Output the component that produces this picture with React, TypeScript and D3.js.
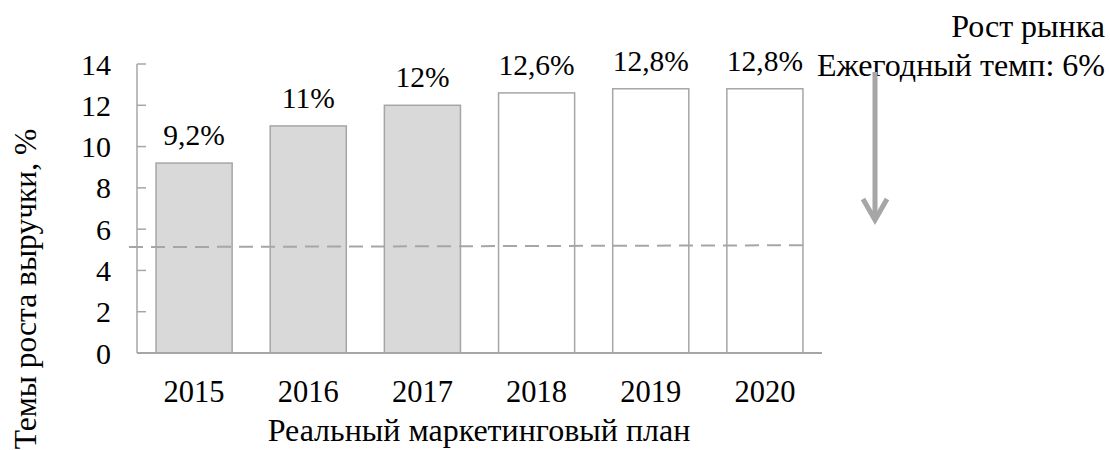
import * as d3 from "d3";

// chart data
const years = ["2015", "2016", "2017", "2018", "2019", "2020"];
const growth = [9.2, 11, 12, 12.6, 12.8, 12.8];
const labels = ["9,2%", "11%", "12%", "12,6%", "12,8%", "12,8%"];
const actual = [true, true, true, false, false, false];
const yTicks = [0, 2, 4, 6, 8, 10, 12, 14];
// market trend line, start / end values
const trend = [5.13, 5.22];

const W = 1110;
const H = 450;
const FONT = "'Liberation Serif', 'Times New Roman', serif";
const GRAY = "#a6a6a6";
const NUM = 29.5; // numbers
const TXT = 32; // cyrillic text

export default function App() {
  const x = d3.scaleBand<string>().domain(years).range([137, 822]).paddingInner(1 / 3).paddingOuter(1 / 6);
  const y = d3.scaleLinear().domain([0, 14]).range([353, 64]);

  const data = years.map((yr, i) => ({ yr, v: growth[i], label: labels[i], filled: actual[i] }));

  const x0 = x.range()[0] - 8;
  const x1 = (x(years[years.length - 1]) ?? 0) + x.bandwidth() + 2;
  const trendLine = d3.line<[number, number]>()([
    [x0, y(trend[0])],
    [x1, y(trend[1])],
  ]);

  return (
    <svg width={W} height={H} style={{ position: "absolute", left: 0, top: 0, background: "#fff", fontFamily: FONT }}>
      {/* bars */}
      {data.map((d) => (
        <g key={d.yr}>
          <rect
            x={x(d.yr)}
            y={y(d.v)}
            width={x.bandwidth()}
            height={y(0) - y(d.v)}
            fill={d.filled ? "#d9d9d9" : "#fff"}
            stroke={GRAY}
            strokeWidth={1.5}
          />
          <text x={(x(d.yr) ?? 0) + x.bandwidth() / 2} y={y(d.v) - 18} textAnchor="middle" fontSize={NUM} fill="#000">
            {d.label}
          </text>
          <text x={(x(d.yr) ?? 0) + x.bandwidth() / 2} y={402} textAnchor="middle" fontSize={30.5} fill="#000">
            {d.yr}
          </text>
        </g>
      ))}

      {/* y axis */}
      <line x1={137} x2={137} y1={y(14)} y2={y(0)} stroke={GRAY} strokeWidth={1.5} />
      {yTicks.map((t) => (
        <g key={t}>
          <line x1={137} x2={146} y1={y(t)} y2={y(t)} stroke={GRAY} strokeWidth={1.5} />
          <text x={111} y={y(t)} dy="0.35em" textAnchor="end" fontSize={30} fill="#000">
            {t}
          </text>
        </g>
      ))}
      {/* x axis */}
      <line x1={137} x2={822} y1={y(0)} y2={y(0)} stroke={GRAY} strokeWidth={2} />

      {/* trend */}
      <path d={trendLine ?? ""} fill="none" stroke={GRAY} strokeWidth={2} strokeDasharray="14,8" />

      {/* axis titles */}
      <text transform="translate(36,289) rotate(-90)" textAnchor="middle" fontSize={31.5} fill="#000">
        Темы роста выручки, %
      </text>
      <text x={479} y={441} textAnchor="middle" fontSize={TXT} fill="#000">
        Реальный маркетинговый план
      </text>

      {/* market annotation */}
      <text x={1105} y={37} textAnchor="end" fontSize={TXT} fill="#000">
        Рост рынка
      </text>
      <text x={1105} y={76} textAnchor="end" fontSize={TXT} fill="#000">
        Ежегодный темп: 6%
      </text>
      <line x1={875} x2={875} y1={72} y2={219} stroke={GRAY} strokeWidth={5} />
      <polyline points="863,199 875,220 887,199" fill="none" stroke={GRAY} strokeWidth={5} />
    </svg>
  );
}
